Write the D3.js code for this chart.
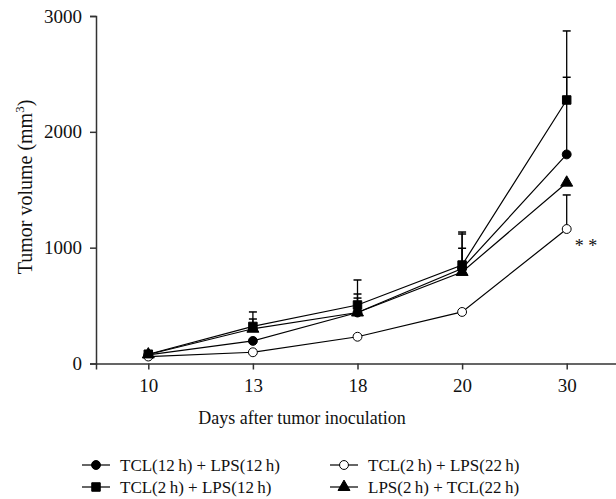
<!DOCTYPE html>
<html>
<head>
<meta charset="utf-8">
<script src="https://cdn.jsdelivr.net/npm/d3@7"></script>
<style>
  body { margin: 0; background: #fff; }
  svg { display: block; font-family: "Liberation Serif", "DejaVu Serif", serif; }
</style>
</head>
<body>
<svg id="chart" width="616" height="499"></svg>
<script>
const days = ['10', '13', '18', '20', '30'];
const yTicks = [0, 1000, 2000, 3000];

// mean values and upper error (top of the bar), per group
const tcl12Lps12 = [75, 195, 440, 820, 1805];
const tcl12Lps12Err = [null, null, 600, 1118, 2471];
const tcl2Lps12 = [80, 320, 505, 850, 2275];
const tcl2Lps12Err = [null, 445, 721, 1135, 2871];
const tcl2Lps22 = [60, 97, 231, 445, 1161];
const tcl2Lps22Err = [null, null, null, null, 1455];
const lps2Tcl22 = [78, 300, 440, 790, 1561];
const lps2Tcl22Err = [null, 384, 565, 995, null];

const groups = [
  { name: 'TCL(12\u2009h) + LPS(12\u2009h)', values: tcl12Lps12, err: tcl12Lps12Err, marker: 'circle', fill: '#000' },
  { name: 'TCL(2\u2009h) + LPS(12\u2009h)', values: tcl2Lps12, err: tcl2Lps12Err, marker: 'square', fill: '#000' },
  { name: 'TCL(2\u2009h) + LPS(22\u2009h)', values: tcl2Lps22, err: tcl2Lps22Err, marker: 'circle', fill: '#fff' },
  { name: 'LPS(2\u2009h) + TCL(22\u2009h)', values: lps2Tcl22, err: lps2Tcl22Err, marker: 'triangle', fill: '#000' }
];

const svg = d3.select('#chart');
const x = d3.scalePoint().domain(days).range([96, 619]).padding(0.5);
const y = d3.scaleLinear().domain([0, 3000]).range([363.5, 16]);

const symbols = {
  circle: d3.symbol().type(d3.symbolCircle).size(62),
  square: d3.symbol().type(d3.symbolSquare).size(72),
  triangle: d3.symbol().type(d3.symbolTriangle).size(62)
};

// error bars
groups.forEach(g => {
  g.err.forEach((e, i) => {
    if (e == null) return;
    const cx = x(days[i]);
    svg.append('line')
      .attr('x1', cx).attr('x2', cx)
      .attr('y1', y(g.values[i])).attr('y2', y(e))
      .attr('stroke', '#000').attr('stroke-width', 1.3);
    svg.append('line')
      .attr('x1', cx - 4).attr('x2', cx + 4)
      .attr('y1', y(e)).attr('y2', y(e))
      .attr('stroke', '#000').attr('stroke-width', 1.5);
  });
});

const line = d3.line()
  .x((d, i) => x(days[i]))
  .y(d => y(d));

groups.forEach(g => {
  svg.append('path')
    .datum(g.values)
    .attr('fill', 'none')
    .attr('stroke', '#000')
    .attr('stroke-width', 1.2)
    .attr('d', line);
});

groups.forEach(g => {
  svg.selectAll(null)
    .data(g.values)
    .join('path')
    .attr('transform', (d, i) => `translate(${x(days[i])},${y(d)})`)
    .attr('d', symbols[g.marker])
    .attr('fill', g.fill)
    .attr('stroke', '#000')
    .attr('stroke-width', 1);
});

// axes
const xAxis = svg.append('g')
  .attr('transform', `translate(0,${y(0)})`)
  .call(d3.axisBottom(x).tickSizeOuter(0).tickSize(6).tickPadding(9));
const yAxis = svg.append('g')
  .attr('transform', `translate(96,0)`)
  .call(d3.axisLeft(y).tickValues(yTicks).tickFormat(d3.format('d')).tickSizeOuter(0).tickSize(6).tickPadding(8));

[xAxis, yAxis].forEach(a => {
  a.attr('font-family', null).attr('font-size', null);
  a.selectAll('.domain, line').attr('stroke', '#333').attr('stroke-width', 1.5);
  a.selectAll('text').attr('fill', '#111').attr('font-size', 19);
});

svg.append('text')
  .attr('x', 302).attr('y', 424)
  .attr('text-anchor', 'middle')
  .attr('font-size', 18)
  .attr('fill', '#111')
  .text('Days after tumor inoculation');

const yl = svg.append('text')
  .attr('transform', 'translate(32,187) rotate(-90)')
  .attr('text-anchor', 'middle')
  .attr('font-size', 20)
  .attr('fill', '#111');
yl.append('tspan').text('Tumor volume (mm');
yl.append('tspan').attr('font-size', 13).attr('dy', -8).text('3');
yl.append('tspan').attr('dy', 8).text(')');

svg.append('text')
  .attr('x', x('30') + 8).attr('y', 252)
  .attr('font-size', 18)
  .attr('fill', '#111')
  .text('* *');

// legend
const legendPos = [[82, 465], [82, 487], [330, 465], [330, 487]];
groups.forEach((g, i) => {
  const [lx, ly] = legendPos[i];
  const item = svg.append('g').attr('transform', `translate(${lx},${ly})`);
  item.append('line')
    .attr('x1', 0).attr('x2', 28)
    .attr('stroke', '#000').attr('stroke-width', 1.2);
  item.append('path')
    .attr('transform', 'translate(14,0)')
    .attr('d', symbols[g.marker])
    .attr('fill', g.fill)
    .attr('stroke', '#000');
  item.append('text')
    .attr('x', 38).attr('dy', '0.35em')
    .attr('font-size', 17)
    .attr('fill', '#111')
    .text(g.name);
});
</script>
</body>
</html>
